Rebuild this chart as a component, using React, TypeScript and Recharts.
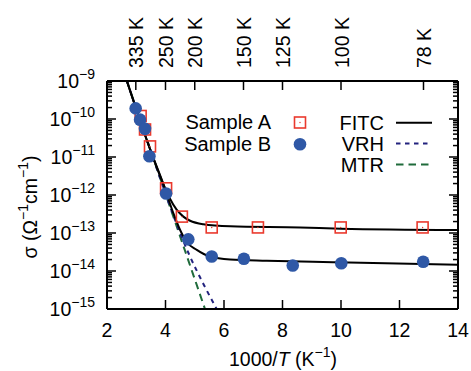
import {
  ComposedChart,
  Line,
  Scatter,
  XAxis,
  YAxis,
  Legend,
} from 'recharts';

// ── data ─────────────────────────────────────────────────────────
const sampleAX = [3.15, 3.3, 3.47, 4.02, 4.56, 5.58, 7.16, 9.99, 12.79];
const sampleAY = [1.2e-10, 5.3e-11, 1.9e-11, 1.5e-12, 2.7e-13, 1.4e-13, 1.4e-13, 1.4e-13, 1.4e-13];

const sampleBX = [2.98, 3.13, 3.3, 3.45, 4.02, 4.78, 5.58, 6.68, 8.35, 10.01, 12.81];
const sampleBY = [1.9e-10, 9.6e-11, 5.5e-11, 1.05e-11, 1.1e-12, 6.8e-14, 2.4e-14, 2.1e-14, 1.4e-14, 1.6e-14, 1.75e-14];

const fitcAX = [2.68, 3.5, 3.92, 4.15, 4.38, 4.61, 4.84, 5.29, 6.21, 8.6, 10, 14];
const fitcAY = [1e-9, 1.4e-11, 2.0e-12, 8.1e-13, 4.1e-13, 2.7e-13, 2.1e-13, 1.7e-13, 1.5e-13, 1.4e-13, 1.3e-13, 1.2e-13];

const fitcBX = [2.68, 3.5, 3.92, 4.27, 4.5, 4.72, 5.07, 5.52, 6.21, 7.46, 9.73, 14];
const fitcBY = [1e-9, 1.4e-11, 2.0e-12, 3.3e-13, 1.2e-13, 5.9e-14, 3.6e-14, 2.4e-14, 2.0e-14, 1.85e-14, 1.7e-14, 1.45e-14];

const vrhX = [2.68, 3.5, 4.3, 4.8, 5.3, 5.75];
const vrhY = [1e-9, 1.4e-11, 2.5e-13, 2.8e-14, 4.5e-15, 1e-15];

const mtrX = [2.68, 5.35];
const mtrY = [1e-9, 1e-15];

const xTicks = [2, 4, 6, 8, 10, 12, 14];
const tempLabels = [335, 250, 200, 150, 125, 100, 78];
const decades = [-15, -14, -13, -12, -11, -10, -9];

const zip = (xs: number[], ys: number[]) => xs.map((x, i) => ({ x, y: ys[i] }));

const sampleA = zip(sampleAX, sampleAY);
const sampleB = zip(sampleBX, sampleBY);
const fitcA = zip(fitcAX, fitcAY);
const fitcB = zip(fitcBX, fitcBY);
const vrh = zip(vrhX, vrhY);
const mtr = zip(mtrX, mtrY);

const topTicks = tempLabels.map((t) => 1000 / t);
const yTicks: number[] = [];
decades.forEach((d) => {
  if (d === -9) {
    yTicks.push(1e-9);
    return;
  }
  for (let m = 1; m <= 9; m++) yTicks.push(m * Math.pow(10, d));
});

const FONT = '"Liberation Sans", Arial, Helvetica, sans-serif';
const RED = '#ea3a2e';
const BLUE = '#2f58a6';
const NAVY = '#22227e';
const GREEN = '#1f6b3b';

const isMajor = (v: number) => {
  const l = Math.log10(v);
  return Math.abs(l - Math.round(l)) < 1e-6;
};

// ── ticks ────────────────────────────────────────────────────────
function LeftTick({ x, y, payload }: any) {
  const v = payload.value;
  const major = isMajor(v);
  return (
    <g>
      <line x1={x} x2={x + (major ? 9 : 5)} y1={y} y2={y} stroke="#000" strokeWidth={1.5} />
      {major && (
        <text x={x - 12} y={y + 7} textAnchor="end" fontSize={19.5} fontFamily={FONT} fill="#000">
          <tspan>10</tspan>
          <tspan dy={-9} fontSize={14}>{`\u2212${-Math.round(Math.log10(v))}`}</tspan>
        </text>
      )}
    </g>
  );
}

function RightTick({ x, y, payload }: any) {
  const major = isMajor(payload.value);
  return <line x1={x} x2={x - (major ? 9 : 5)} y1={y} y2={y} stroke="#000" strokeWidth={1.5} />;
}

function BottomTick({ x, y, payload }: any) {
  return (
    <g>
      <line x1={x} x2={x} y1={y} y2={y - 9} stroke="#000" strokeWidth={1.5} />
      <text x={x} y={y + 28} textAnchor="middle" fontSize={19.5} fontFamily={FONT} fill="#000">
        {payload.value}
      </text>
    </g>
  );
}

function TopTick({ x, y, index }: any) {
  return (
    <g>
      <line x1={x} x2={x} y1={y} y2={y + 9} stroke="#000" strokeWidth={1.5} />
      <text
        transform={`translate(${x + 7.5},${y - 13}) rotate(-90)`}
        textAnchor="start"
        fontSize={19.5}
        fontFamily={FONT}
        fill="#000"
      >
        {`${tempLabels[index]} K`}
      </text>
    </g>
  );
}

// ── markers ──────────────────────────────────────────────────────
function SquareMark({ cx, cy }: any) {
  return (
    <g>
      <rect x={cx - 5.5} y={cy - 5.5} width={11} height={11} fill="none" stroke={RED} strokeWidth={1.6} />
      <circle cx={cx} cy={cy} r={0.7} fill={RED} />
    </g>
  );
}

function CircleMark({ cx, cy }: any) {
  return <circle cx={cx} cy={cy} r={6.3} fill={BLUE} />;
}

// ── legend ───────────────────────────────────────────────────────
function KeyBox() {
  const txt = { fontSize: 20, fontFamily: FONT, fill: '#000', textAnchor: 'end' as const };
  return (
    <svg width={471} height={371} style={{ position: 'absolute', left: 0, top: 0 }}>
      <text x={271} y={129} {...txt}>Sample A</text>
      <SquareMark cx={300} cy={122.5} />
      <text x={271} y={151} {...txt}>Sample B</text>
      <CircleMark cx={300} cy={144.3} />

      <text x={384} y={130} {...txt}>FITC</text>
      <line x1={396} x2={432} y1={122.7} y2={122.7} stroke="#000" strokeWidth={2} />
      <text x={384} y={151} {...txt}>VRH</text>
      <line x1={396} x2={432} y1={143.5} y2={143.5} stroke={NAVY} strokeWidth={2} strokeDasharray="4.5 4.5" />
      <text x={384} y={172} {...txt}>MTR</text>
      <line x1={396} x2={432} y1={164.5} y2={164.5} stroke={GREEN} strokeWidth={2} strokeDasharray="7.5 5" />
    </svg>
  );
}

// ── main ─────────────────────────────────────────────────────────
export default function App() {
  const axisLine = { stroke: '#000', strokeWidth: 2 };
  return (
    <div style={{ position: 'absolute', left: 0, top: 0, width: 471, height: 371, background: '#fff' }}>
      <ComposedChart width={471} height={371} margin={{ top: 0, right: 0, bottom: 0, left: 0 }}>
        <XAxis
          dataKey="x"
          type="number"
          domain={[2, 14]}
          ticks={xTicks}
          interval={0}
          height={62}
          tickSize={0}
          tickMargin={0}
          tickLine={false}
          axisLine={axisLine}
          tick={<BottomTick />}
        />
        <XAxis
          xAxisId="top"
          orientation="top"
          dataKey="x"
          type="number"
          domain={[2, 14]}
          ticks={topTicks}
          interval={0}
          height={81}
          tickSize={0}
          tickMargin={0}
          tickLine={false}
          axisLine={axisLine}
          tick={<TopTick />}
        />
        <YAxis
          dataKey="y"
          type="number"
          scale="log"
          domain={[1e-15, 1e-9]}
          allowDataOverflow
          ticks={yTicks}
          interval={0}
          width={107}
          tickSize={0}
          tickMargin={0}
          tickLine={false}
          axisLine={axisLine}
          tick={<LeftTick />}
        />
        <YAxis
          yAxisId="right"
          orientation="right"
          dataKey="y"
          type="number"
          scale="log"
          domain={[1e-15, 1e-9]}
          allowDataOverflow
          ticks={yTicks}
          interval={0}
          width={13}
          tickSize={0}
          tickMargin={0}
          tickLine={false}
          axisLine={axisLine}
          tick={<RightTick />}
        />

        <Line data={mtr} dataKey="y" name="MTR" type="linear" stroke={GREEN} strokeWidth={2}
          strokeDasharray="7.5 5" dot={false} isAnimationActive={false} />
        <Line data={vrh} dataKey="y" name="VRH" type="monotone" stroke={NAVY} strokeWidth={2}
          strokeDasharray="4.5 4.5" dot={false} isAnimationActive={false} />
        <Line data={fitcA} dataKey="y" name="FITC" type="monotone" stroke="#000" strokeWidth={2}
          dot={false} isAnimationActive={false} />
        {/* second fit drawn on the top/right axes (same scales) so those axes render */}
        <Line data={fitcB} dataKey="y" name="FITC B" xAxisId="top" yAxisId="right" type="monotone"
          stroke="#000" strokeWidth={2} dot={false} legendType="none" isAnimationActive={false} />
        <Scatter data={sampleA} dataKey="y" name="Sample A" shape={<SquareMark />} isAnimationActive={false} />
        <Scatter data={sampleB} dataKey="y" name="Sample B" shape={<CircleMark />} isAnimationActive={false} />

        <Legend
          layout="vertical"
          align="center"
          verticalAlign="middle"
          content={() => <KeyBox />}
          wrapperStyle={{ left: 0, top: 0, width: 471, height: 371, pointerEvents: 'none' }}
        />
      </ComposedChart>

      <svg width={471} height={371} style={{ position: 'absolute', left: 0, top: 0, pointerEvents: 'none' }}>
        <text x={283} y={366} textAnchor="middle" fontSize={19.5} fontFamily={FONT} fill="#000">
          <tspan>1000/</tspan>
          <tspan fontStyle="italic">T</tspan>
          <tspan> (K</tspan>
          <tspan dy={-9} fontSize={14}>{'\u22121'}</tspan>
          <tspan dy={9}>)</tspan>
        </text>
        <text transform="translate(37,207) rotate(-90)" textAnchor="middle" fontSize={19.5} fontFamily={FONT} fill="#000">
          <tspan>{'\u03c3 (\u03a9'}</tspan>
          <tspan dy={-9} fontSize={14}>{'\u22121'}</tspan>
          <tspan dy={9}>cm</tspan>
          <tspan dy={-9} fontSize={14}>{'\u22121'}</tspan>
          <tspan dy={9}>)</tspan>
        </text>
      </svg>
    </div>
  );
}
